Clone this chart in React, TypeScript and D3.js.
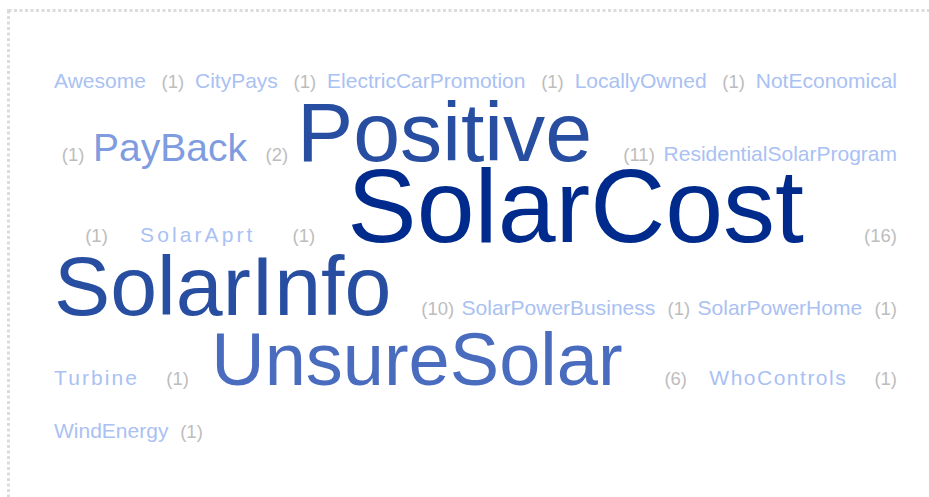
import React, { useMemo } from 'react';
import * as d3 from 'd3';

// ---- data ----
const words = [
  'Awesome', 'CityPays', 'ElectricCarPromotion', 'LocallyOwned', 'NotEconomical',
  'PayBack', 'Positive', 'ResidentialSolarProgram', 'SolarAprt', 'SolarCost',
  'SolarInfo', 'SolarPowerBusiness', 'SolarPowerHome', 'Turbine', 'UnsureSolar',
  'WhoControls', 'WindEnergy',
];
const counts = [1, 1, 1, 1, 1, 2, 11, 1, 1, 16, 10, 1, 1, 1, 6, 1, 1];
const countLabels = counts.map((c) => `(${c})`);

// token index (word i -> 2i, its count -> 2i+1) at which each line of the cloud starts
const lineStarts = [0, 9, 15, 20, 26, 32];

// ---- styles / layout ----
const WIDTH = 929;
const HEIGHT = 497;
const FONT = '"Liberation Sans", Arial, Helvetica, sans-serif';
const LEFT = 54;
const RIGHT = 897;
const TOP = 35.5;
const COUNT_SIZE = 18.5;
const COUNT_COLOR = '#bdbdbd';
const COUNT_PAD = 6; // extra space before a count
const COUNT_GAP = 7; // space after a count
const letterSpacing: Record<string, number> = { SolarAprt: 3.1, Turbine: 2.1, WhoControls: 1.5 };

// tag classes by count
const sizeScale = d3.scaleThreshold<number, number>().domain([2, 6, 10, 16]).range([21, 39, 74, 84.3, 104]);
const colorScale = d3
  .scaleThreshold<number, string>()
  .domain([2, 6, 10, 16])
  .range(['#a9c1f3', '#7e9cdf', '#4a6cbf', '#284ea2', '#002b8c']);

let ctx: CanvasRenderingContext2D | null = null;
function measure(text: string, size: number, ls: number) {
  if (!ctx) ctx = document.createElement('canvas').getContext('2d');
  ctx!.font = `${size}px ${FONT}`;
  return ctx!.measureText(text).width + ls * text.length;
}

type Tok = { text: string; size: number; fill: string; ls: number; isCount: boolean; w: number; x: number; y: number };

export default function App() {
  const toks = useMemo(() => {
    const t: Tok[] = [];
    words.forEach((w, i) => {
      const s = sizeScale(counts[i]);
      const ls = letterSpacing[w] ?? 0;
      t.push({ text: w, size: s, fill: colorScale(counts[i]), ls, isCount: false, w: measure(w, s, ls), x: 0, y: 0 });
      t.push({ text: countLabels[i], size: COUNT_SIZE, fill: COUNT_COLOR, ls: 0, isCount: true, w: measure(countLabels[i], COUNT_SIZE, 0), x: 0, y: 0 });
    });
    const sep = (k: number) => (t[k].isCount ? measure(' ', t[k - 1].size, 0) + COUNT_PAD : COUNT_GAP);
    const avail = RIGHT - LEFT;
    let baseline = TOP;
    lineStarts.forEach((start, li) => {
      const end = li + 1 < lineStarts.length ? lineStarts[li + 1] : t.length;
      const last = li === lineStarts.length - 1;
      const hasLead = start > 0 && t[start].isCount;
      let natural = hasLead ? COUNT_PAD : 0;
      let nOpp = hasLead ? 1 : 0;
      let maxSize = 0;
      for (let k = start; k < end; k++) {
        natural += t[k].w;
        if (k > start) {
          natural += sep(k);
          nOpp++;
        }
        maxSize = Math.max(maxSize, t[k].size);
      }
      const e = last || nOpp === 0 ? 0 : (avail - natural) / nOpp;
      baseline += 38.3 + Math.max(0.41 * maxSize, 14.5) + (maxSize < 80 && maxSize > 30 ? 1.3 : 0);
      let x = LEFT + (hasLead ? COUNT_PAD + e : 0);
      for (let k = start; k < end; k++) {
        if (k > start) x += sep(k) + e;
        t[k].x = x;
        t[k].y = baseline;
        x += t[k].w;
      }
    });
    return t;
  }, []);

  return (
    <svg
      width={WIDTH}
      height={HEIGHT}
      style={{ position: 'absolute', left: 0, top: 0, background: '#fff' }}
      fontFamily={FONT}
    >
      <rect x={8.5} y={10.5} width={2000} height={2000} fill="none" stroke="#dcdcdc" strokeWidth={3} strokeDasharray="3 2.5" />
      {toks.map((t, i) => (
        <text key={i} x={t.x} y={t.y} fontSize={t.size} fill={t.fill} letterSpacing={t.ls || undefined}>
          {t.text}
        </text>
      ))}
    </svg>
  );
}
